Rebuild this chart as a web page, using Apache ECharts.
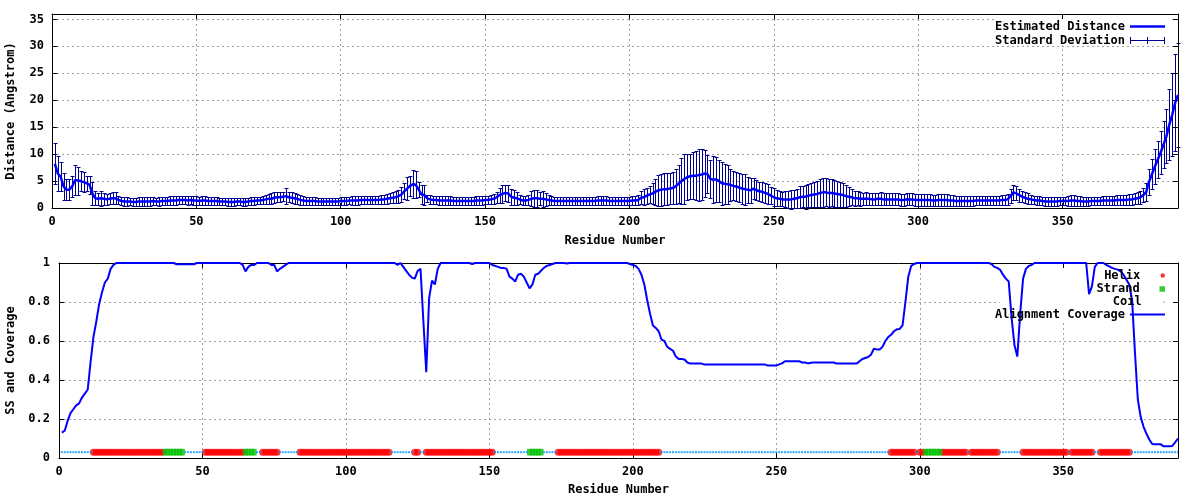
<!DOCTYPE html>
<html><head><meta charset="utf-8">
<script src="https://cdn.jsdelivr.net/npm/echarts@6/dist/echarts.min.js"></script>
<style>html,body{margin:0;padding:0;background:#fff}#c{width:1200px;height:500px}</style>
</head><body><div id="c"></div>
<script>
// Estimated distance per residue (residues 1..390)
const estimatedDistance = [
  8.2, 6.4, 5.8, 4.0, 3.4, 3.4, 4.0, 5.2, 5.1, 5.0,
  4.8, 4.6, 4.3, 2.7, 1.8, 1.7, 1.8, 1.7, 1.6, 1.7,
  1.8, 1.8, 1.5, 1.3, 1.2, 1.2, 1.2, 1.1, 1.1, 1.2,
  1.2, 1.2, 1.2, 1.2, 1.3, 1.2, 1.2, 1.3, 1.3, 1.3,
  1.4, 1.4, 1.4, 1.5, 1.5, 1.5, 1.4, 1.5, 1.4, 1.4,
  1.3, 1.4, 1.4, 1.3, 1.3, 1.3, 1.3, 1.2, 1.2, 1.2,
  1.1, 1.1, 1.1, 1.2, 1.2, 1.1, 1.1, 1.2, 1.3, 1.3,
  1.4, 1.4, 1.5, 1.6, 1.7, 1.7, 1.9, 2.0, 2.0, 2.1,
  2.2, 2.0, 1.9, 1.8, 1.7, 1.5, 1.4, 1.3, 1.3, 1.3,
  1.3, 1.2, 1.2, 1.2, 1.2, 1.2, 1.2, 1.2, 1.2, 1.3,
  1.3, 1.3, 1.4, 1.4, 1.4, 1.4, 1.5, 1.5, 1.5, 1.5,
  1.5, 1.5, 1.5, 1.6, 1.6, 1.7, 1.8, 1.9, 2.0, 2.2,
  2.5, 3.1, 3.6, 4.1, 4.4, 4.3, 3.4, 2.5, 2.4, 1.8,
  1.6, 1.5, 1.5, 1.4, 1.4, 1.4, 1.4, 1.4, 1.3, 1.3,
  1.3, 1.3, 1.3, 1.3, 1.3, 1.3, 1.4, 1.4, 1.4, 1.5,
  1.5, 1.6, 1.7, 2.0, 2.4, 2.6, 2.8, 2.7, 2.1, 1.9,
  1.8, 1.6, 1.4, 1.4, 1.5, 1.7, 1.8, 1.8, 1.7, 1.7,
  1.6, 1.5, 1.4, 1.3, 1.3, 1.3, 1.3, 1.3, 1.3, 1.3,
  1.3, 1.3, 1.3, 1.3, 1.3, 1.3, 1.3, 1.3, 1.4, 1.4,
  1.4, 1.4, 1.3, 1.3, 1.3, 1.3, 1.3, 1.3, 1.3, 1.3,
  1.4, 1.4, 1.5, 1.9, 2.0, 2.3, 2.5, 2.7, 3.0, 3.3,
  3.4, 3.5, 3.5, 3.6, 3.7, 4.0, 4.5, 5.0, 5.4, 5.7,
  5.9, 6.0, 6.0, 6.1, 6.2, 6.4, 6.3, 5.4, 5.3, 5.3,
  5.0, 4.6, 4.5, 4.4, 4.3, 4.1, 4.0, 3.8, 3.6, 3.5,
  3.4, 3.3, 3.6, 3.3, 3.1, 3.0, 2.8, 2.6, 2.3, 2.0,
  1.8, 1.7, 1.6, 1.6, 1.6, 1.6, 1.7, 1.8, 2.0, 2.1,
  2.1, 2.3, 2.4, 2.5, 2.6, 2.8, 2.9, 2.9, 2.8, 2.8,
  2.7, 2.6, 2.5, 2.4, 2.2, 2.1, 2.0, 1.8, 1.8, 1.7,
  1.7, 1.7, 1.7, 1.6, 1.6, 1.7, 1.7, 1.6, 1.6, 1.6,
  1.6, 1.6, 1.6, 1.5, 1.5, 1.6, 1.6, 1.6, 1.5, 1.5,
  1.5, 1.5, 1.5, 1.5, 1.4, 1.4, 1.5, 1.5, 1.5, 1.5,
  1.4, 1.4, 1.3, 1.3, 1.3, 1.3, 1.3, 1.3, 1.3, 1.4,
  1.4, 1.4, 1.4, 1.4, 1.4, 1.4, 1.4, 1.4, 1.5, 1.5,
  1.6, 2.2, 2.9, 2.7, 2.4, 2.1, 1.9, 1.7, 1.6, 1.5,
  1.4, 1.4, 1.3, 1.2, 1.2, 1.2, 1.2, 1.2, 1.3, 1.3,
  1.3, 1.3, 1.4, 1.4, 1.3, 1.3, 1.2, 1.2, 1.2, 1.3,
  1.3, 1.3, 1.3, 1.4, 1.4, 1.4, 1.4, 1.4, 1.5, 1.5,
  1.5, 1.5, 1.6, 1.6, 1.7, 1.8, 2.0, 2.4, 3.0, 4.9,
  6.3, 7.7, 9.0, 10.3, 11.8, 13.3, 15.5, 17.3, 19.5, 21.0
];
// Standard deviation per residue
const standardDeviation = [
  3.8, 3.3, 2.7, 2.5, 2.0, 2.0, 2.0, 2.7, 2.6, 1.8,
  1.9, 1.4, 1.7, 2.1, 1.3, 1.1, 1.4, 1.1, 1.0, 1.0,
  1.1, 1.1, 0.8, 0.8, 0.8, 0.8, 0.7, 0.8, 0.8, 0.8,
  0.8, 0.8, 0.8, 0.8, 0.8, 0.7, 0.8, 0.8, 0.8, 0.8,
  0.8, 0.8, 0.8, 0.8, 0.8, 0.8, 0.8, 0.8, 0.8, 0.8,
  0.8, 0.8, 0.8, 0.8, 0.7, 0.7, 0.7, 0.7, 0.7, 0.7,
  0.7, 0.7, 0.7, 0.7, 0.7, 0.7, 0.7, 0.7, 0.7, 0.7,
  0.7, 0.7, 0.8, 0.8, 0.9, 1.0, 1.0, 0.9, 0.9, 0.8,
  1.5, 0.9, 1.0, 1.0, 0.9, 0.9, 0.8, 0.8, 0.7, 0.7,
  0.7, 0.7, 0.7, 0.7, 0.7, 0.7, 0.7, 0.7, 0.7, 0.7,
  0.7, 0.7, 0.7, 0.8, 0.8, 0.8, 0.8, 0.8, 0.8, 0.8,
  0.8, 0.8, 0.8, 0.8, 0.8, 0.9, 0.9, 1.0, 1.1, 1.2,
  1.4, 1.5, 2.1, 1.9, 2.6, 2.5, 1.4, 1.7, 1.9, 0.7,
  0.8, 0.8, 0.8, 0.8, 0.8, 0.8, 0.8, 0.8, 0.8, 0.8,
  0.8, 0.8, 0.8, 0.8, 0.8, 0.8, 0.8, 0.8, 0.8, 0.8,
  0.8, 0.8, 0.9, 1.0, 1.4, 1.6, 1.5, 1.6, 1.5, 1.4,
  1.2, 0.9, 0.9, 0.8, 1.0, 1.4, 1.6, 1.6, 1.2, 1.5,
  1.2, 1.0, 0.8, 0.8, 0.8, 0.8, 0.8, 0.8, 0.8, 0.8,
  0.8, 0.8, 0.8, 0.8, 0.8, 0.8, 0.8, 0.8, 0.8, 0.8,
  0.8, 0.8, 0.8, 0.8, 0.8, 0.8, 0.8, 0.8, 0.8, 0.8,
  0.8, 0.8, 1.0, 1.2, 1.5, 1.5, 1.6, 1.9, 2.4, 2.9,
  3.0, 3.0, 3.0, 2.9, 2.9, 3.2, 3.5, 4.2, 4.6, 4.3,
  4.2, 4.4, 4.6, 4.8, 4.8, 4.4, 3.5, 3.6, 4.3, 4.2,
  3.9, 4.0, 3.7, 3.6, 3.0, 2.7, 2.7, 2.7, 2.8, 2.9,
  2.4, 2.3, 2.0, 1.9, 1.8, 1.9, 1.8, 1.8, 1.6, 1.7,
  1.5, 1.4, 1.3, 1.5, 1.6, 1.7, 1.7, 1.8, 2.0, 2.0,
  2.2, 2.2, 2.2, 2.4, 2.5, 2.6, 2.7, 2.6, 2.6, 2.5,
  2.5, 2.4, 2.3, 2.2, 2.0, 1.8, 1.5, 1.4, 1.3, 1.3,
  1.1, 1.2, 1.1, 1.1, 1.1, 1.1, 1.2, 1.1, 1.1, 1.1,
  1.1, 1.1, 1.1, 1.1, 1.1, 1.1, 1.1, 1.1, 1.1, 1.1,
  1.1, 1.1, 1.1, 1.1, 1.0, 1.0, 1.1, 1.1, 1.1, 1.1,
  1.0, 1.0, 0.9, 0.9, 0.9, 0.9, 0.9, 0.9, 0.9, 0.9,
  0.9, 0.9, 0.9, 0.9, 0.9, 0.9, 0.9, 0.9, 0.9, 0.9,
  1.0, 1.3, 1.4, 1.3, 1.2, 1.0, 1.0, 1.0, 0.9, 0.8,
  0.8, 0.8, 0.8, 0.8, 0.8, 0.8, 0.8, 0.8, 0.8, 0.8,
  0.8, 0.9, 1.0, 1.0, 1.0, 0.9, 0.8, 0.8, 0.8, 0.8,
  0.8, 0.8, 0.8, 0.9, 0.9, 0.9, 0.9, 0.9, 0.9, 0.9,
  0.9, 0.9, 1.0, 1.0, 1.0, 1.1, 1.2, 1.3, 1.7, 2.4,
  2.8, 3.3, 3.5, 3.9, 4.4, 5.0, 6.5, 7.7, 9.0, 9.6
];
// Alignment coverage per residue
const alignmentCoverage = [
  0.13, 0.14, 0.19, 0.23, 0.25, 0.27, 0.28, 0.31, 0.33, 0.35,
  0.49, 0.62, 0.70, 0.79, 0.85, 0.90, 0.92, 0.97, 0.99, 1,
  1, 1, 1, 1, 1, 1, 1, 1, 1, 1,
  1, 1, 1, 1, 1, 1, 1, 1, 1, 1,
  0.993, 0.993, 0.993, 0.993, 0.993, 0.993, 0.993, 1, 1, 1,
  1, 1, 1, 1, 1, 1, 1, 1, 1, 1,
  1, 1, 1, 0.99, 0.957, 0.98, 0.99, 0.99, 1, 1,
  1, 1, 1, 0.99, 0.99, 0.957, 0.97, 0.98, 0.99, 1,
  1, 1, 1, 1, 1, 1, 1, 1, 1, 1,
  1, 1, 1, 1, 1, 1, 1, 1, 1, 1,
  1, 1, 1, 1, 1, 1, 1, 1, 1, 1,
  1, 1, 1, 1, 1, 1, 1, 0.99, 1, 0.98,
  0.96, 0.94, 0.925, 0.92, 0.96, 0.97, 0.70, 0.44, 0.82, 0.91,
  0.89, 0.97, 1, 1, 1, 1, 1, 1, 1, 1,
  1, 1, 1, 0.995, 1, 1, 1, 1, 1, 1,
  0.99, 0.985, 0.98, 0.975, 0.975, 0.97, 0.93, 0.92, 0.905, 0.94,
  0.945, 0.93, 0.90, 0.87, 0.89, 0.94, 0.945, 0.96, 0.975, 0.985,
  0.99, 0.995, 1, 1, 1, 1, 0.998, 1, 1, 1,
  1, 1, 1, 1, 1, 1, 1, 1, 1, 1,
  1, 1, 1, 1, 1, 1, 1, 1, 0.995, 0.99,
  0.985, 0.97, 0.94, 0.89, 0.81, 0.74, 0.68, 0.667, 0.65, 0.607,
  0.60, 0.57, 0.56, 0.55, 0.52, 0.508, 0.508, 0.505, 0.49, 0.484,
  0.484, 0.484, 0.484, 0.484, 0.479, 0.479, 0.479, 0.479, 0.479, 0.479,
  0.479, 0.479, 0.479, 0.479, 0.479, 0.48, 0.48, 0.48, 0.48, 0.48,
  0.48, 0.48, 0.48, 0.48, 0.48, 0.48, 0.474, 0.474, 0.474, 0.474,
  0.48, 0.485, 0.496, 0.496, 0.496, 0.496, 0.496, 0.496, 0.49, 0.49,
  0.485, 0.488, 0.49, 0.49, 0.49, 0.49, 0.49, 0.49, 0.49, 0.49,
  0.484, 0.484, 0.484, 0.484, 0.484, 0.484, 0.484, 0.484, 0.496, 0.508,
  0.513, 0.518, 0.53, 0.56, 0.557, 0.556, 0.57, 0.60, 0.62, 0.632,
  0.65, 0.66, 0.662, 0.68, 0.80, 0.93, 0.985, 0.995, 1, 1,
  1, 1, 1, 1, 1, 1, 1, 1, 1, 1,
  1, 1, 1, 1, 1, 1, 1, 1, 1, 1,
  1, 1, 1, 1, 0.995, 0.98, 0.975, 0.965, 0.94, 0.92,
  0.905, 0.72, 0.58, 0.52, 0.74, 0.92, 0.97, 0.985, 0.99, 1,
  1, 1, 1, 1, 1, 1, 1, 1, 1, 1,
  1, 1, 1, 1, 1, 1, 1, 1, 0.84, 0.88,
  0.98, 1, 1, 1, 0.99, 0.983, 0.975, 0.97, 0.966, 0.957,
  0.94, 0.915, 0.89, 0.81, 0.54, 0.30, 0.21, 0.16, 0.125, 0.095,
  0.072, 0.07, 0.07, 0.07, 0.06, 0.06, 0.06, 0.062, 0.08, 0.10
];
// Secondary structure (residue ranges, inclusive)
const helixRanges = [[12,36],[51,64],[71,76],[84,115],[124,125],[128,151],[174,209],[290,298],[300,301],[308,316],[318,327],[336,351],[353,360],[363,373]];
const strandRanges = [[37,43],[65,68],[164,168],[302,307]];
const ssTrackValue = 0.03;

const FONT = "'DejaVu Sans Mono', monospace";
const txt = { fontFamily: FONT, fontWeight: 'bold', fontSize: 12, color: '#000' };

const residues = estimatedDistance.map((_, i) => i + 1);
const inRanges = (r, ranges) => ranges.some(g => r >= g[0] && r <= g[1]);
const helixRes = residues.filter(r => inRanges(r, helixRanges));
const strandRes = residues.filter(r => inRanges(r, strandRanges));
const coilRes = residues.filter(r => !inRanges(r, helixRanges) && !inRanges(r, strandRanges));

const gridLine = { show: true, showMinLine: false, showMaxLine: false, lineStyle: { color: '#a0a0a0', type: [2, 3], width: 1 } };
const blackLine = { show: true, onZero: false, lineStyle: { color: '#000', width: 1 } };
const tickIn = { show: true, inside: true, length: 5, lineStyle: { color: '#000', width: 1 } };

function mainX(gi, gap) {
  return { type: 'value', gridIndex: gi, position: 'bottom', min: 0, max: 390, interval: 50,
    name: 'Residue Number', nameLocation: 'middle', nameGap: gap, nameTextStyle: txt, nameMoveOverlap: false,
    axisLine: blackLine, axisTick: tickIn,
    axisLabel: Object.assign({ margin: 8, showMaxLabel: false, showMinLabel: true }, txt),
    splitLine: gridLine };
}
function mirrorX(gi) {
  return { type: 'value', gridIndex: gi, position: 'top', min: 0, max: 390, interval: 50, z: 3,
    axisLine: blackLine, axisTick: tickIn, axisLabel: { show: false }, splitLine: { show: false } };
}
function mainY(gi, max, interval, name, gap, margin, showMax) {
  return { type: 'value', gridIndex: gi, position: 'left', min: 0, max: max, interval: interval,
    name: name, nameLocation: 'middle', nameGap: gap, nameRotate: 90, nameTextStyle: txt, nameMoveOverlap: false,
    axisLine: blackLine, axisTick: tickIn,
    axisLabel: Object.assign({ margin: margin, showMaxLabel: showMax, showMinLabel: true }, txt),
    splitLine: gridLine };
}
function mirrorY(gi, max, interval) {
  return { type: 'value', gridIndex: gi, position: 'right', min: 0, max: max, interval: interval, z: 3,
    axisLine: blackLine, axisTick: tickIn, axisLabel: { show: false }, splitLine: { show: false } };
}

const barColor = '#000090';
function renderErrorBar(params, api) {
  const x = api.value(0), v = api.value(1), s = api.value(2);
  const top = api.coord([x, v + s]);
  const bot = api.coord([x, v - s]);
  const px = Math.round(top[0]) + 0.5;
  const ty = Math.round(top[1]) + 0.5, by = Math.round(bot[1]) + 0.5;
  const hw = 2;
  const st = { stroke: barColor, lineWidth: 1, fill: null };
  return { type: 'group', children: [
    { type: 'line', shape: { x1: px, y1: ty, x2: px, y2: by }, style: st },
    { type: 'line', shape: { x1: px - hw, y1: ty, x2: px + hw, y2: ty }, style: st },
    { type: 'line', shape: { x1: px - hw, y1: by, x2: px + hw, y2: by }, style: st }
  ] };
}

const legendBase = { orient: 'vertical', align: 'right', right: 35, padding: 0, itemGap: 0, itemWidth: 35,
  selectedMode: false, textStyle: Object.assign({ lineHeight: 14 }, txt) };

const chart = echarts.init(document.getElementById('c'), null, { renderer: 'canvas' });
chart.setOption({
  animation: false,
  backgroundColor: '#fff',
  grid: [
    { left: 52, right: 22, top: 14, bottom: 292, outerBoundsMode: 'none', containLabel: false },
    { left: 59, right: 22, top: 263, bottom: 42, outerBoundsMode: 'none', containLabel: false }
  ],
  xAxis: [mainX(0, 27), mirrorX(0), mainX(1, 26), mirrorX(1)],
  yAxis: [
    mainY(0, 36, 5, 'Distance (Angstrom)', 35, 8, false), mirrorY(0, 36, 5),
    mainY(1, 1, 0.2, 'SS and Coverage', 42, 9, true), mirrorY(1, 1, 0.2)
  ],
  graphic: [
    { type: 'rect', z: 1, shape: { x: 997, y: 15, width: 175, height: 30 }, style: { fill: '#fff' }, silent: true },
    { type: 'rect', z: 1, shape: { x: 1000, y: 264, width: 172, height: 56 }, style: { fill: '#fff' }, silent: true }
  ],
  legend: [
    Object.assign({}, legendBase, { top: 19.5, itemHeight: 8,
      data: [{ name: 'Estimated Distance', icon: 'path://M0,0h35v2.5h-35z' },
             { name: 'Standard Deviation', icon: 'path://M0,3h35v1h-35z M0,0h1v7h-1z M17,0h1v7h-1z M34,0h1v7h-1z' }] }),
    Object.assign({}, legendBase, { top: 268.5, itemHeight: 4.5, data: [{ name: 'Helix', icon: 'circle' }] }),
    Object.assign({}, legendBase, { top: 282, itemHeight: 5.5, data: [{ name: 'Strand', icon: 'path://M0,0h10v10h-10z' }] }),
    Object.assign({}, legendBase, { top: 295, itemHeight: 1.5, data: [{ name: 'Coil', icon: 'circle' }] }),
    Object.assign({}, legendBase, { top: 307.5, itemHeight: 8, data: [{ name: 'Alignment Coverage', icon: 'path://M0,0h35v2h-35z' }] })
  ],
  series: [
    { name: 'Standard Deviation', type: 'custom', xAxisIndex: 0, yAxisIndex: 0, z: 2,
      data: residues.map((r, i) => [r, estimatedDistance[i], standardDeviation[i]]),
      encode: { x: 0, y: 1 }, renderItem: renderErrorBar, itemStyle: { color: barColor } },
    { name: 'Estimated Distance', type: 'line', xAxisIndex: 0, yAxisIndex: 0, z: 3,
      data: residues.map((r, i) => [r, estimatedDistance[i]]),
      symbol: 'none', lineStyle: { color: '#0000ff', width: 2.5 }, itemStyle: { color: '#0000ff' } },
    { name: 'Helix', type: 'scatter', xAxisIndex: 2, yAxisIndex: 2, z: 2,
      data: helixRes.map(r => [r, ssTrackValue]), symbol: 'circle', symbolSize: 7,
      itemStyle: { color: '#ff0000' } },
    { name: 'Strand', type: 'scatter', xAxisIndex: 2, yAxisIndex: 2, z: 2,
      data: strandRes.map(r => [r, ssTrackValue]), symbol: 'rect', symbolSize: [5, 6.7],
      itemStyle: { color: '#00c000' } },
    { name: 'Coil', type: 'scatter', xAxisIndex: 2, yAxisIndex: 2, z: 2,
      data: coilRes.map(r => [r, ssTrackValue]), symbol: 'rect', symbolSize: 2,
      itemStyle: { color: '#0090ff' } },
    { name: 'Alignment Coverage', type: 'line', xAxisIndex: 2, yAxisIndex: 2, z: 3,
      data: residues.map((r, i) => [r, alignmentCoverage[i]]),
      symbol: 'none', lineStyle: { color: '#0000ff', width: 2 }, itemStyle: { color: '#0000ff' } }
  ]
});
</script>
</body></html>
